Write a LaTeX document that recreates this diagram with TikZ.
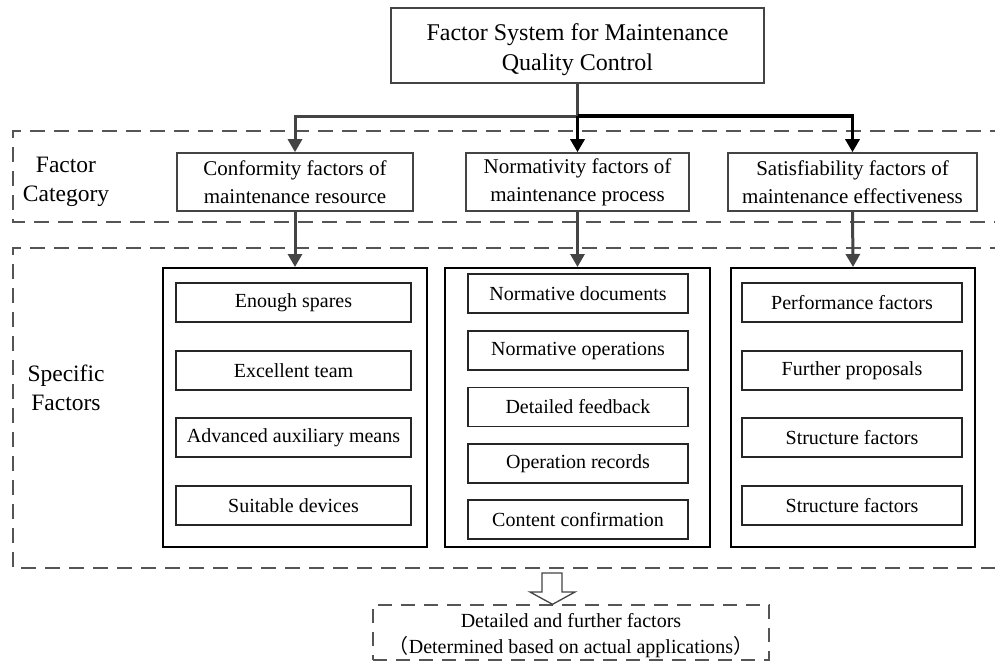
\documentclass[tikz,border=0pt]{standalone}
\usepackage{fontspec}
\setmainfont{Liberation Serif}
\newfontfamily\cjkfont{Noto Sans CJK SC}
\usetikzlibrary{arrows.meta}

\definecolor{linegray}{HTML}{444444}
\definecolor{dashgray}{HTML}{555555}

\tikzset{
  box/.style={draw=linegray, line width=1.6pt, fill=white, align=center,
    inner sep=0pt, font=\fontsize{21}{28}\selectfont},
  groupbox/.style={draw=black, line width=2pt, inner sep=0pt},
  itembox/.style={draw=black!85, line width=1.5pt, inner sep=0pt,
    minimum height=39pt, font=\fontsize{20}{24}\selectfont},
  sidelabel/.style={align=center, inner sep=0pt, font=\fontsize{23.5}{29}\selectfont},
  region/.style={draw=dashgray, line width=1.6pt, dash pattern=on 15pt off 9pt},
  feedgray/.style={draw=linegray, line width=3pt,
    -{Triangle[length=13pt,width=14pt]}},
  feedblack/.style={draw=black, line width=3.2pt,
    -{Triangle[length=13pt,width=14pt]}},
}

\begin{document}
\begin{tikzpicture}[x=1pt, y=-1pt]
\useasboundingbox (0,0) rectangle (995,662);

% dashed layer frames, open to the right
\draw[region] (1005,131) -- (13,131) -- (13,222) -- (1005,222);
\draw[region] (1005,248) -- (13,248) -- (13,568) -- (1005,568);

% layer labels
\node[sidelabel] (lcat) at (66,182) {Factor\\Category};
\node[sidelabel] (lspec) at (66,388) {Specific\\Factors};

% root
\node[box, minimum width=373pt, minimum height=75pt,
  font=\fontsize{24}{30}\selectfont] (root) at (577.5,45.5)
  {\rule{0pt}{26pt}Factor System for Maintenance\\Quality Control};

% factor categories
\node[box, minimum width=236pt, minimum height=58pt] (c1) at (295,182)
  {Conformity factors of\\maintenance resource};
\node[box, minimum width=223pt, minimum height=58pt] (c2) at (577.5,182)
  {Normativity factors of\\maintenance process};
\node[box, minimum width=249pt, minimum height=58pt] (c3) at (852.5,182)
  {Satisfiability factors of\\maintenance effectiveness};

% specific factor groups
\node[groupbox, minimum width=264pt, minimum height=279pt] (g1) at (295,407.5) {};
\node[groupbox, minimum width=265pt, minimum height=279pt] (g2) at (577.5,407.5) {};
\node[groupbox, minimum width=244pt, minimum height=279pt] (g3) at (853,407.5) {};

\node[itembox, minimum width=235pt] (a1) at (293.5,302.5) {Enough spares};
\node[itembox, minimum width=235pt] (a2) at (293.5,370.5) {Excellent team};
\node[itembox, minimum width=235pt] (a3) at (293.5,437.5) {Advanced auxiliary means};
\node[itembox, minimum width=235pt] (a4) at (293.5,505.5) {Suitable devices};

\node[itembox, minimum width=220pt] (b1) at (578,293.5) {Normative documents};
\node[itembox, minimum width=220pt] (b2) at (578,350.5) {Normative operations};
\node[itembox, minimum width=220pt] (b3) at (578,407) {Detailed feedback};
\node[itembox, minimum width=220pt] (b4) at (578,463.5) {Operation records};
\node[itembox, minimum width=220pt] (b5) at (578,519.5) {Content confirmation};

\node[itembox, minimum width=220pt] (d1) at (852,302.5) {Performance factors};
\node[itembox, minimum width=220pt] (d2) at (852,370.5) {Further proposals};
\node[itembox, minimum width=220pt] (d3) at (852,437.5) {Structure factors};
\node[itembox, minimum width=220pt] (d4) at (852,505.5) {Structure factors};

% branching from the root
\coordinate (fork) at (577.5,116);
\draw[feedgray, -] (root.south) -- (fork);
\draw[feedgray] (fork) -| (c1.north);
\draw[feedblack] (fork) -- (c2.north);
\draw[feedblack] (fork) -| (c3.north);

% categories to their groups
\draw[feedgray] (c1.south) -- (g1.north);
\draw[feedgray] (c2.south) -- (g2.north);
\draw[feedgray] (c3.south) -- (g3.north);

% outlook box
\node[draw=dashgray, line width=1.4pt, dash pattern=on 14pt off 9pt,
  minimum width=396pt, minimum height=55pt, inner sep=0pt, align=center,
  font=\fontsize{20}{26}\selectfont] (more) at (571,632.5)
  {\rule{0pt}{20pt}Detailed and further factors\\{\cjkfont （}Determined based on actual applications{\cjkfont ）}};

% hollow block arrow into the outlook box
\draw[draw=linegray, line width=1.3pt, fill=white, line join=miter]
  (542,573) -- (562,573) -- (562,592) -- (575,592) -- (more.north -| 552.5,0)
  -- (530,592) -- (542,592) -- cycle;
\end{tikzpicture}
\end{document}
